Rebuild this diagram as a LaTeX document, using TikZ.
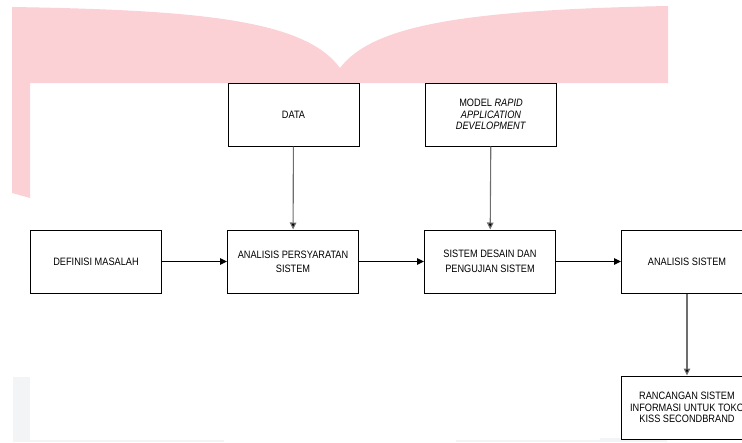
\documentclass[tikz,border=0pt]{standalone}
\usepackage{fontspec}
\setmainfont{Liberation Sans}[FakeStretch=0.86]
\usetikzlibrary{arrows.meta}
\definecolor{pinkwm}{RGB}{251,209,213}
\definecolor{graywm}{RGB}{243,244,245}
\definecolor{conngray}{RGB}{110,110,110}
\tikzset{
  box/.style={draw=black, line width=1pt, fill=white, minimum width=131pt, minimum height=63pt,
    align=center, inner sep=1pt, font=\fontsize{10.7}{11.5}\selectfont},
  harrow/.style={draw=black, line width=1.2pt, -{Triangle[length=7pt,width=6.5pt]}},
  varrow/.style={draw=conngray, line width=1.1pt, -{Triangle[length=7pt,width=6.5pt,fill=black]}}
}
\begin{document}
\begin{tikzpicture}[x=1pt,y=-1pt]
\useasboundingbox (0,0) rectangle (742,442);
\clip (0,0) rectangle (742,442);
% watermark remnants
\fill[pinkwm] (12,7) .. controls (200,10) and (305,20) .. (340,68)
  .. controls (372,26) and (460,10) .. (668,6) -- (668,83) -- (30,83)
  -- (30,198) -- (12,193) -- cycle;
\fill[graywm] (13,377) rectangle (30,442);
\fill[graywm] (13,440) rectangle (224,442);
\fill[graywm] (456,440) rectangle (620,442);
\fill[graywm] (600,438) rectangle (667,442);
% boxes
\node[box] (data) at (293.5,114.5) {DATA};
\node[box] (model) at (491,114.5) {MODEL \textit{RAPID}\\\textit{APPLICATION}\\\textit{DEVELOPMENT}};
\node[box] (def) at (96,261.5) {DEFINISI MASALAH};
\node[box, font=\fontsize{10.7}{14.3}\selectfont] (aps) at (293,261.5) {ANALISIS PERSYARATAN\\SISTEM};
\node[box, font=\fontsize{10.7}{14.8}\selectfont] (sdp) at (490,261.5) {SISTEM DESAIN DAN\\PENGUJIAN SISTEM};
\node[box] (as) at (687,261.5) {ANALISIS SISTEM};
\node[box] (ran) at (687,407.5) {RANCANGAN SISTEM\\INFORMASI UNTUK TOKO\\KISS SECONDBRAND};
% connectors
\draw[harrow] (def) -- (aps);
\draw[harrow] (aps) -- (sdp);
\draw[harrow] (sdp) -- (as);
\draw[varrow] (data) -- (aps);
\draw[varrow] (model) -- (sdp);
\draw[varrow] (as) -- (ran);
\end{tikzpicture}
\end{document}
